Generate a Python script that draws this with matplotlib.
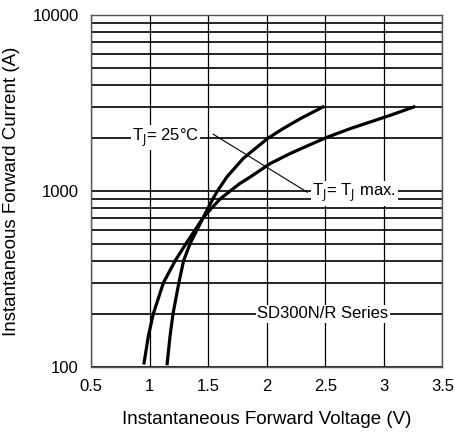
import matplotlib
matplotlib.use("Agg")
import matplotlib.pyplot as plt
from matplotlib.ticker import NullFormatter, LogLocator

plt.rcParams['font.family'] = ['Liberation Sans', 'DejaVu Sans']

# forward voltage (V) vs current (A)
v_25 = [1.15, 1.175, 1.20, 1.25, 1.29, 1.345, 1.405, 1.455, 1.50, 1.54, 1.58,
        1.66, 1.80, 1.92, 2.01, 2.14, 2.29, 2.48]
i_25 = [104, 150, 200, 300, 400, 500, 600, 700, 800, 900, 1000,
        1200, 1530, 1780, 1990, 2260, 2580, 3000]

v_max = [0.953, 0.99, 1.032, 1.118, 1.218, 1.31, 1.389, 1.455, 1.531, 1.603, 1.69,
         1.77, 1.86, 2.03, 2.20, 2.357, 2.509, 2.714, 2.885, 3.056, 3.255]
i_max = [105, 150, 200, 300, 400, 500, 600, 700, 800, 900, 1000,
         1100, 1200, 1430, 1630, 1815, 2010, 2260, 2466, 2691, 3000]

x_ticks = [0.5, 1, 1.5, 2, 2.5, 3, 3.5]
x_labels = ['0.5', '1', '1.5', '2', '2.5', '3', '3.5']
y_ticks = [100, 1000, 10000]

fig = plt.figure(figsize=(4.55, 4.36), dpi=100)
ax = fig.add_axes([0.2, 0.159, 0.7725, 0.8066])

ax.set_yscale('log')
ax.set_xlim(0.5, 3.5)
ax.set_ylim(100, 10000)

ax.set_xticks(x_ticks)
ax.set_xticklabels(x_labels)
ax.set_yticks(y_ticks)
ax.set_yticklabels([str(t) for t in y_ticks])
ax.yaxis.set_minor_locator(LogLocator(base=10, subs=range(2, 10)))
ax.yaxis.set_minor_formatter(NullFormatter())
ax.tick_params(which='both', length=0, labelsize=12, pad=9)

ax.grid(True, axis='x', color='black', lw=0.9)
ax.grid(True, axis='y', which='both', color='black', lw=1.2)
ax.set_axisbelow(True)
for s in ax.spines.values():
    s.set_color('#555555')
    s.set_linewidth(1.0)

ax.plot(v_25, i_25, color='black', lw=2.3, solid_joinstyle='round', zorder=3)
ax.plot(v_max, i_max, color='black', lw=2.3, solid_joinstyle='round', zorder=3)

# leader line between the labels
ax.plot([1.543, 2.346], [2099, 982], color='black', lw=0.8, zorder=3)

box = dict(facecolor='white', edgecolor='none', pad=1)
ax.text(0.85, 2000, r'T$_\mathrm{J}$= 25°C', fontsize=12, ha='left', va='center',
        bbox=box, zorder=4)
ax.text(2.39, 970, r'T$_\mathrm{J}$= T$_\mathrm{J}$ max.', fontsize=12, ha='left',
        va='center', bbox=box, zorder=4)
ax.text(1.92, 200, 'SD300N/R Series', fontsize=12, ha='left', va='center',
        bbox=box, zorder=4)

ax.set_xlabel('Instantaneous Forward Voltage (V)', fontsize=13.5, labelpad=12)
ax.set_ylabel('Instantaneous Forward Current (A)', fontsize=13.5, labelpad=9)

fig.savefig('out.png', dpi=100)
